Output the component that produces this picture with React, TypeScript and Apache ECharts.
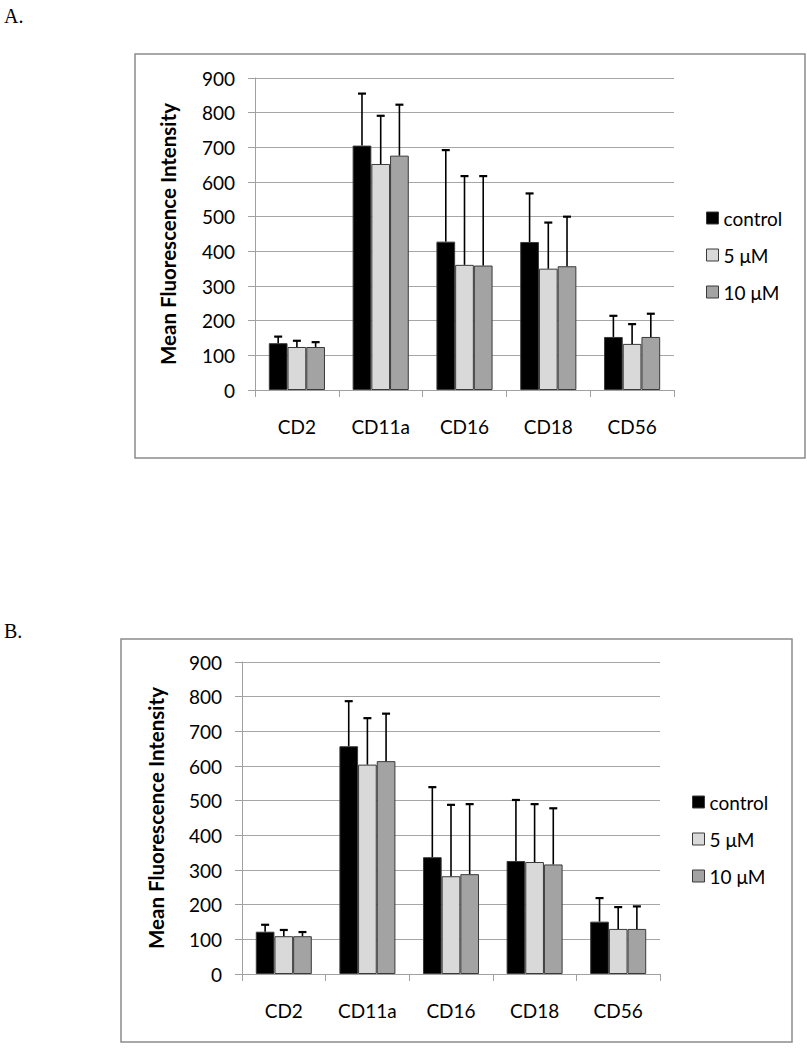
import React, { useEffect, useRef } from "react";
import * as echarts from "echarts";

const categories = ["CD2", "CD11a", "CD16", "CD18", "CD56"];
const seriesNames = ["control", "5 μM", "10 μM"];
const yTicks = [0, 100, 200, 300, 400, 500, 600, 700, 800, 900];

// Panel A means and SDs
const aControl = [135, 705, 428, 427, 153];
const aControlSD = [19, 150, 264, 140, 61];
const a5uM = [124, 652, 361, 350, 133];
const a5uMSD = [18, 139, 256, 133, 57];
const a10uM = [124, 676, 359, 357, 153];
const a10uMSD = [14, 147, 258, 143, 67];

// Panel B means and SDs
const bControl = [122, 657, 337, 326, 151];
const bControlSD = [20, 130, 202, 176, 68];
const b5uM = [109, 604, 282, 323, 130];
const b5uMSD = [18, 134, 206, 167, 63];
const b10uM = [109, 614, 288, 316, 130];
const b10uMSD = [12, 137, 202, 162, 65];

const barColors = ["#000000", "#d9d9d9", "#a3a3a3"];
const FONT = 'Lato, "Open Sans", sans-serif';
const CAT_GAP = 0.33;

export default function App() {
  const ref = useRef<HTMLDivElement>(null);

  useEffect(() => {
    if (!ref.current) return;
    const chart = echarts.init(ref.current, undefined, { renderer: "svg" });

    const panels = [
      { means: [aControl, a5uM, a10uM], sds: [aControlSD, a5uMSD, a10uMSD] },
      { means: [bControl, b5uM, b10uM], sds: [bControlSD, b5uMSD, b10uMSD] },
    ];

    const grids = [
      { left: 255, right: 807 - 674, top: 78, bottom: 1050 - 390 },
      { left: 242, right: 807 - 660, top: 662, bottom: 1050 - 974 },
    ];
    const nameGaps = [77, 76];

    const xAxes = grids.map((_, i) => ({
      type: "category",
      gridIndex: i,
      data: categories,
      axisLine: { lineStyle: { color: "#a0a0a0", width: 1 } },
      axisTick: { show: true, length: 7, alignWithLabel: false, lineStyle: { color: "#a0a0a0" } },
      axisLabel: { fontSize: 19, color: "#000", fontFamily: FONT, margin: 27 },
    }));

    const yAxes = grids.map((_, i) => ({
      type: "value",
      gridIndex: i,
      min: yTicks[0],
      max: yTicks[yTicks.length - 1],
      interval: yTicks[1] - yTicks[0],
      name: "Mean Fluorescence Intensity",
      nameLocation: "middle",
      nameRotate: 90,
      nameGap: nameGaps[i],
      nameTextStyle: { fontSize: 20.5, fontWeight: "bold", color: "#000", fontFamily: FONT },
      axisLine: { show: true, lineStyle: { color: "#a0a0a0", width: 1 } },
      axisTick: { show: true, length: 7, lineStyle: { color: "#a0a0a0" } },
      axisLabel: { fontSize: 19, color: "#000", fontFamily: FONT, margin: 20 },
      splitLine: { show: true, lineStyle: { color: "#a6a6a6", width: 1 } },
    }));

    const series: any[] = [];
    panels.forEach((p, pi) => {
      p.means.forEach((m, si) => {
        series.push({
          type: "bar",
          name: seriesNames[si],
          xAxisIndex: pi,
          yAxisIndex: pi,
          data: m,
          barGap: "0%",
          barCategoryGap: CAT_GAP * 100 + "%",
          itemStyle: { color: barColors[si], borderColor: "#3a3a3a", borderWidth: 1 },
          z: 2,
        });
      });
    });
    panels.forEach((p, pi) => {
      p.means.forEach((m, si) => {
        series.push({
          type: "custom",
          name: "err-" + pi + "-" + si,
          xAxisIndex: pi,
          yAxisIndex: pi,
          z: 3,
          silent: true,
          encode: { x: 0, y: [1, 2] },
          data: m.map((v, ci) => [ci, v, v + p.sds[si][ci]]),
          renderItem: (params: any, api: any) => {
            const ci = api.value(0);
            const base = api.coord([ci, api.value(1)]);
            const top = api.coord([ci, api.value(2)]);
            const band = api.size([1, 0])[0];
            const bw = (band * (1 - CAT_GAP)) / 3;
            const x = base[0] + (si - 1) * bw;
            const cap = 4;
            const style = { stroke: "#000", lineWidth: 1.6 };
            return {
              type: "group",
              children: [
                { type: "line", shape: { x1: x, y1: base[1], x2: x, y2: top[1] }, style },
                { type: "line", shape: { x1: x - cap, y1: top[1], x2: x + cap, y2: top[1] }, style: { stroke: "#000", lineWidth: 2.2 } },
              ],
            };
          },
        });
      });
    });

    const legendPos = [
      { left: 706, top: 208 },
      { left: 692, top: 792 },
    ];
    const legends = legendPos.map((lp) => ({
      data: seriesNames,
      orient: "vertical",
      left: lp.left,
      top: lp.top,
      padding: 0,
      itemWidth: 12,
      itemHeight: 12,
      itemGap: 17,
      icon: "rect",
      selectedMode: false,
      itemStyle: { borderColor: "#3a3a3a", borderWidth: 1 },
      textStyle: { fontSize: 19, color: "#000", fontFamily: FONT, lineHeight: 20 },
    }));

    chart.setOption({
      animation: false,
      backgroundColor: "#fff",
      grid: grids,
      xAxis: xAxes,
      yAxis: yAxes,
      legend: legends,
      series,
      graphic: [
        { type: "rect", shape: { x: 135, y: 54, width: 670, height: 404 }, style: { fill: "none", stroke: "#8c8c8c", lineWidth: 1.5 } },
        { type: "rect", shape: { x: 121, y: 639, width: 671, height: 403 }, style: { fill: "none", stroke: "#8c8c8c", lineWidth: 1.5 } },
        { type: "text", x: 4, y: 6, style: { text: "A.", fontSize: 20, fontFamily: '"Liberation Serif", "DejaVu Serif", serif', fill: "#000" } },
        { type: "text", x: 4, y: 621, style: { text: "B.", fontSize: 20, fontFamily: '"Liberation Serif", "DejaVu Serif", serif', fill: "#000" } },
      ],
    });

    return () => chart.dispose();
  }, []);

  return (
    <div
      ref={ref}
      style={{ position: "absolute", left: 0, top: 0, width: 807, height: 1050, background: "#fff" }}
    />
  );
}
